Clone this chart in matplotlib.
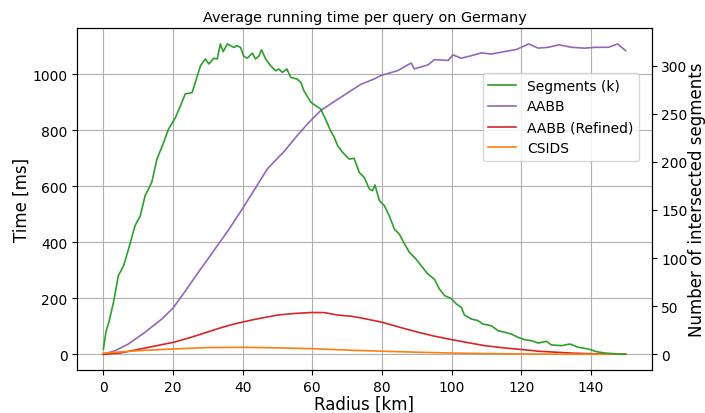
import numpy as np
from matplotlib import pyplot as plt

# radius [km] and values
seg_r = [0, 0.8, 1.6, 2.9, 4.3, 5.8, 7.2, 9.1, 10.6, 12, 13.9, 15.4, 17.3, 18.7, 20.7,
         22.1, 23.5, 25.5, 26.4, 27.9, 29.3, 30.3, 31.7, 32.7, 33.6, 34.4, 35.6, 37.5,
         38.4, 39.4, 40.3, 41.3, 42.8, 43.7, 44.7, 45.4, 46.6, 48, 49.5, 50.4, 51.4, 52.7,
         53.8, 55.7, 56.7, 57.6, 59.6, 61, 62.4, 63.8, 65.3, 66.3, 67.3, 68.7, 70.6, 72,
         73.5, 74.9, 76.4, 77.3, 78, 79.3, 80.7, 82.1, 83.6, 85, 86.5, 87.9, 89.8, 91.3,
         93.2, 95.1, 96.5, 98, 99.9, 101.4, 102.8, 103.7, 105.7, 107.6, 109, 111.4, 113.4,
         115.3, 117.2, 119.1, 121, 123, 124.9, 127.3, 128.7, 131.6, 134, 136.4, 139.3,
         141.7, 144.1, 147, 150]
segments = [5.5, 24.5, 33.6, 54, 81.7, 92, 109, 133.7, 144, 165, 178.8, 203, 220, 234, 246,
            258, 270.6, 272, 282.7, 300, 307, 301.8, 307.7, 307, 322.6, 314.6, 322.6, 319,
            320.8, 319, 310, 307.7, 313, 307, 310, 316.6, 307, 300, 294.8, 296.6, 293, 296.6,
            288, 286, 282.7, 274, 262, 258.4, 255, 244.6, 232, 225.6, 216.8, 210, 203, 203.7,
            189, 184, 171.8, 170, 176, 159.7, 154.5, 144, 130, 125, 114.7, 106, 99, 92,
            83.5, 78, 68, 61, 58, 52.3, 48.9, 40.8, 36.7, 35, 31.5, 29.7, 24.5,
            22.9, 21, 17.7, 15.2, 14.1, 11.7, 13.5, 9.7, 9, 10.7, 7.3, 5.5,
            2.7, 1.3, 0.5, 0]

aabb_r = [0, 3.4, 7.2, 12, 16.8, 20, 23.5, 27.4, 30.3, 32, 36, 39.9, 43.5, 47.1, 51.9, 55.7,
          58.6, 62.4, 65.3, 70.1, 74, 77.8, 79.7, 84.6, 88.4, 89.3, 93.2, 95.1, 99, 100.4,
          102.8, 105.7, 108.6, 111.4, 115.3, 118.6, 122.2, 124.9, 127.8, 130.8, 134.5,
          138.3, 141.2, 145.1, 147.7, 150]
aabb = [0, 13, 37, 79, 126, 165, 225, 295, 345, 375, 445, 519, 590, 662, 724, 781,
        822, 870, 894, 933, 964, 983, 995, 1013, 1040, 1019, 1033, 1052, 1049, 1069,
        1057, 1066, 1076, 1072, 1081, 1088, 1108, 1093, 1096, 1105, 1096,
        1093, 1096, 1096, 1108, 1084]

ref_r = [0, 5, 10.6, 15, 20.2, 25, 29.8, 33, 37.5, 43.2, 50, 55, 59.6, 63.4, 67.3, 71.1, 74,
         80.2, 85, 90.3, 95, 100.2, 105, 109.5, 115, 120.6, 125, 130.7, 135, 140.3, 145, 150]
aabb_ref = [0, 5, 19, 30, 43, 60, 79, 92, 108, 124, 140, 146, 149, 149, 140, 136, 130,
            114, 97, 79, 65, 52, 41, 31, 23, 16.5, 11, 7, 4, 2, 1, 0.5]

csids_r = [0, 10, 20, 30, 40, 50, 60, 70, 80, 90, 100, 110, 120, 130, 140, 150]
csids = [4, 13, 19, 24, 25, 23, 20, 15, 11, 7.5, 4.5, 2.5, 1.2, 0.6, 0.3, 0.2]

fig = plt.figure(figsize=(7.05, 4.14), dpi=100)
ax1 = fig.add_subplot(111)
ax2 = ax1.twinx()
fig.subplots_adjust(left=0.1096, right=0.9244, bottom=0.1039, top=0.9307)

l1, = ax2.plot(seg_r, segments, color="tab:green", lw=1.2, label="Segments (k)")
l2, = ax1.plot(aabb_r, aabb, color="tab:purple", lw=1.2, label="AABB")
l3, = ax1.plot(ref_r, aabb_ref, color="tab:red", lw=1.2, label="AABB (Refined)")
l4, = ax1.plot(csids_r, csids, color="tab:orange", lw=1.2, label="CSIDS")

ax1.set_ylim(-56, 1166)
ax2.set_ylim(-16.3, 339.5)
ax1.set_xlim(-7.5, 157.5)
ax1.grid(True)

ax1.set_title("Average running time per query on Germany", fontsize=10.4, pad=5)
ax1.set_xlabel("Radius [km]", fontsize=12, labelpad=1)
ax1.set_ylabel("Time [ms]", fontsize=12, labelpad=1)
ax2.set_ylabel("Number of intersected segments", fontsize=12, labelpad=0)
ax1.tick_params(labelsize=10)
ax2.tick_params(labelsize=10)

ax2.legend(handles=[l1, l2, l3, l4], loc="upper right",
           bbox_to_anchor=(0.99, 0.888), fontsize=10)

plt.savefig("out.png")
